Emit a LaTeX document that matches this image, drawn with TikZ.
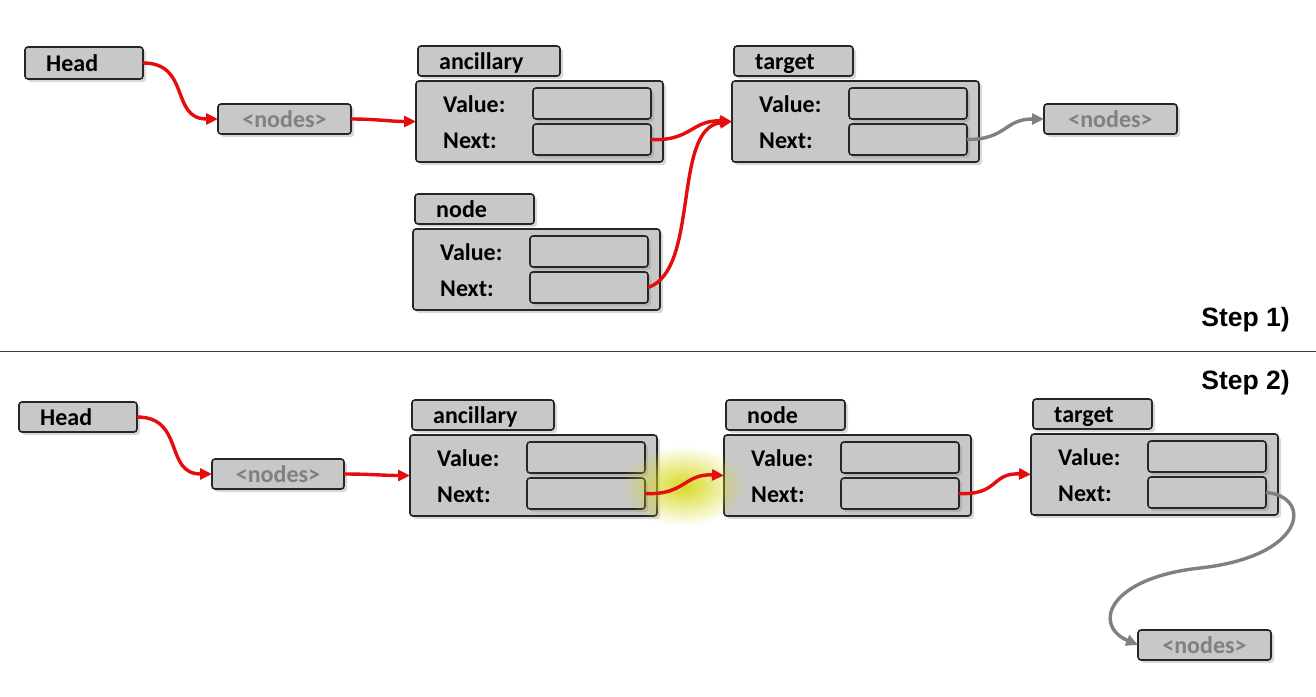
\documentclass[tikz,border=0pt]{standalone}
\usepackage{fontspec}
\setmainfont{Carlito}
\newfontfamily\arialf{Liberation Sans}
\usetikzlibrary{arrows.meta,shadows,fadings}
\definecolor{boxgray}{RGB}{200,200,200}
\definecolor{arrred}{RGB}{228,12,12}
\definecolor{arrgray}{RGB}{128,128,128}
\definecolor{glowc}{RGB}{215,215,25}
\tikzfading[name=glowfade, inner color=transparent!5, outer color=transparent!100]
\tikzset{
  box/.style={draw=black!85, line width=1.6pt, fill=boxgray, rounded corners=3pt,
    drop shadow={shadow xshift=3pt, shadow yshift=-3pt, opacity=0.3},
    inner sep=0pt, outer sep=0pt},
  field/.style={box, minimum width=118pt, minimum height=31pt},
  txt/.style={inner sep=0pt, font=\fontsize{24}{27}\selectfont\bfseries, text height=20pt, text depth=3pt},
  graytxt/.style={txt, text=arrgray},
  steptxt/.style={inner sep=0pt, font=\arialf\fontsize{26.5}{30}\selectfont\bfseries},
  redarr/.style={draw=arrred, line width=3.4pt, -{Triangle[length=12pt,width=11pt]}},
  grayarr/.style={draw=arrgray, line width=3.4pt, -{Triangle[length=12pt,width=11pt]}},
}
\newcommand\listelem[5]{%
  \node[box, minimum width=247pt, minimum height=81pt, anchor=north west] (#1) at (#2,#3) {};
  \node[box, minimum width=#5pt, minimum height=30pt, anchor=north west] (#1-t) at ({#2+2},{#3-35}) {};
  \node[txt, anchor=west, xshift=21pt] (#1-tl) at (#1-t.west) {#4};
  \node[field, anchor=north west] (#1-v) at ({#2+117},{#3+7}) {};
  \node[field, anchor=north west] (#1-n) at ({#2+117},{#3+43}) {};
  \node[txt, anchor=west] (#1-vl) at ({#2+27},{#3+23}) {Value:};
  \node[txt, anchor=west] (#1-nl) at ({#2+27},{#3+59}) {Next:};
}
\begin{document}
\begin{tikzpicture}[x=1pt,y=-1pt]
\useasboundingbox (0,0) rectangle (1316,696);
\fill[white] (0,0) rectangle (1316,696);

% ---------------- Step 1 ----------------
\node[box, minimum width=118pt, minimum height=32pt, anchor=north west] (head1) at (25,47) {};
\node[txt, anchor=west, xshift=21pt] (head1-l) at (head1.west) {Head};
\node[box, minimum width=133pt, minimum height=30pt, anchor=north west] (nodesA) at (218,104) {};
\node[graytxt] (nodesA-l) at (nodesA.center) {<nodes>};

\listelem{anc1}{416}{81}{ancillary}{142}
\listelem{tgt1}{732}{81}{target}{119}
\listelem{nd1}{413}{229}{node}{119}

\node[box, minimum width=133pt, minimum height=30pt, anchor=north west] (nodesB) at (1044,104) {};
\node[graytxt] (nodesB-l) at (nodesB.center) {<nodes>};

\draw[redarr] (head1.east) .. controls +(48,0) and +(-48,0) .. (nodesA.west);
\draw[redarr] (nodesA.east) to[out=0,in=180] (anc1.west);
\draw[redarr] (anc1-n.east) .. controls +(40,2) and +(-40,-2) .. (tgt1.west);
\draw[redarr] (nd1-n.east) .. controls (700,270) and (672,128) .. (tgt1.west);
\draw[grayarr] (tgt1-n.east) .. controls +(40,0) and +(-40,0) .. (nodesB.west);

\node[steptxt, anchor=east] (step1) at (1290,320) {Step 1)};

% separator
\coordinate (sepL) at (0,351);
\coordinate (sepR) at (1316,351);
\draw[black!75, line width=1pt] (sepL) -- (sepR);

\node[steptxt, anchor=east] (step2) at (1290,383) {Step 2)};

% ---------------- Step 2 ----------------
\node[box, minimum width=118pt, minimum height=30pt, anchor=north west] (head2) at (19,402) {};
\node[txt, anchor=west, xshift=21pt] (head2-l) at (head2.west) {Head};
\node[box, minimum width=132pt, minimum height=30pt, anchor=north west] (nodesC) at (212,459) {};
\node[graytxt] (nodesC-l) at (nodesC.center) {<nodes>};

\listelem{anc2}{410}{435}{ancillary}{142}
\listelem{nd2}{724}{435}{node}{119}
\listelem{tgt2}{1031}{434}{target}{119}

\node[box, minimum width=133pt, minimum height=30pt, anchor=north west] (nodesD) at (1138,630) {};
\node[graytxt] (nodesD-l) at (nodesD.center) {<nodes>};

% glow
\fill[glowc, path fading=glowfade] (683,486) ellipse [x radius=62pt, y radius=40pt];

\draw[redarr] (head2.east) .. controls +(48,0) and +(-48,0) .. (nodesC.west);
\draw[redarr] (nodesC.east) to[out=0,in=180] (anc2.west);
\draw[redarr] (anc2-n.east) .. controls +(40,2) and +(-40,-2) .. (nd2.west);
\draw[redarr] (nd2-n.east) .. controls +(40,2) and +(-40,-2) .. (tgt2.west);
\coordinate (bend) at (1200,568);
\draw[grayarr] (tgt2-n.east) .. controls (1312,496) and (1308,556) .. (bend)
  .. controls (1108,578) and (1092,625) .. (nodesD.west);
\end{tikzpicture}
\end{document}
